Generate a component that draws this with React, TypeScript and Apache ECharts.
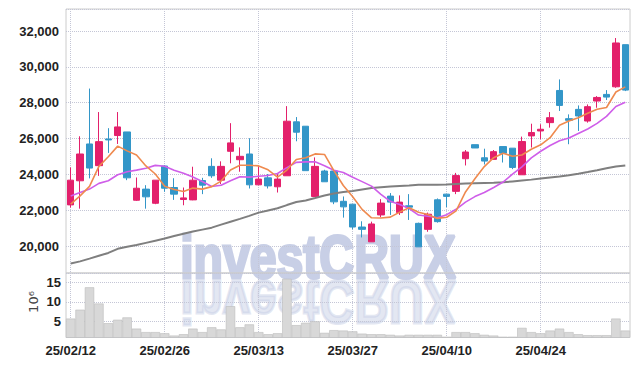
import React, { useEffect, useRef } from "react";
import * as echarts from "echarts";

const dates = [
  "25/02/12","25/02/13","25/02/14","25/02/17","25/02/18","25/02/19","25/02/20","25/02/21","25/02/24","25/02/25",
  "25/02/26","25/02/27","25/02/28","25/03/04","25/03/05","25/03/06","25/03/07","25/03/10","25/03/11","25/03/12",
  "25/03/13","25/03/14","25/03/17","25/03/18","25/03/19","25/03/20","25/03/21","25/03/24","25/03/25","25/03/26",
  "25/03/27","25/03/28","25/03/31","25/04/01","25/04/02","25/04/03","25/04/04","25/04/07","25/04/08","25/04/09",
  "25/04/10","25/04/11","25/04/14","25/04/15","25/04/16","25/04/17","25/04/18","25/04/21","25/04/22","25/04/23",
  "25/04/24","25/04/25","25/04/28","25/04/29","25/04/30","25/05/02","25/05/07","25/05/08","25/05/09","25/05/12",
];

const opens = [
  22300, 23645, 25700, 24490, 25980, 26170, 26370, 22560, 23180, 22390,
  24470, 23270, 22600, 22580, 23660, 24450, 23680, 25290, 24820, 25140,
  23420, 23810, 23310, 23925, 26935, 26690, 22770, 24190, 24190, 22500,
  22340, 21065, 20240, 21740, 22790, 21870, 22250, 21270, 20935, 22585,
  22900, 23055, 24875, 25660, 24930, 24840, 25555, 25465, 23980, 26150,
  26425, 26890, 28685, 27110, 27630, 26980, 28095, 28465, 28890, 31240,
];
const closes = [
  23680, 25140, 24355, 25830, 25925, 26650, 23810, 23230, 22750, 23680,
  23230, 22900, 22690, 23680, 23400, 23925, 24450, 25760, 25010, 23420,
  23740, 23360, 23740, 26970, 26355, 24210, 24450, 23590, 22470, 22190,
  21065, 20935, 21235, 22400, 22455, 22455, 22175, 19960, 21780, 21365,
  22775, 23935, 25250, 25475, 24745, 25270, 25185, 24390, 25835, 26335,
  26520, 27165, 27850, 27020, 27260, 27780, 28295, 28315, 31335, 28705,
];
const lows = [
  22150, 22090, 23780, 23920, 25200, 25700, 23680, 22520, 22090, 22340,
  23030, 22580, 22280, 22560, 22900, 23810, 23460, 24620, 24150, 23215,
  23400, 23215, 22990, 23925, 25850, 24210, 22770, 23590, 22340, 21590,
  20935, 20485, 20240, 21610, 21740, 21740, 21460, 19960, 20800, 21310,
  22175, 22900, 24500, 25475, 24555, 24840, 24665, 24295, 23980, 25500,
  25960, 26610, 27540, 25685, 26425, 26890, 27720, 28150, 28835, 28650,
];
const highs = [
  24390, 26130, 28790, 27480, 26580, 27480, 26370, 23830, 23400, 23680,
  24520, 23790, 23270, 24430, 23810, 24900, 24730, 26860, 25510, 26020,
  24450, 24020, 24020, 27810, 27200, 26690, 24950, 24260, 24190, 22770,
  22340, 21385, 21365, 22620, 22960, 22830, 22900, 21310, 21870, 22660,
  22900, 24085, 25360, 25660, 25435, 25360, 25555, 25465, 26110, 26830,
  26800, 27480, 29300, 27350, 27850, 27905, 28370, 28705, 31610, 31240,
];

// trading volume, millions of shares
const volumes = [
  5.7, 8.0, 13.8, 9.6, 4.5, 5.4, 6.0, 3.1, 2.2, 2.2,
  1.9, 1.3, 1.65, 3.1, 2.2, 3.45, 2.9, 8.9, 3.45, 4.2,
  2.2, 1.65, 1.9, 16.0, 4.0, 4.6, 5.0, 2.0, 2.7, 2.6,
  2.4, 1.8, 1.65, 1.65, 1.5, 1.3, 1.5, 1.5, 1.5, 1.5,
  1.0, 2.2, 2.2, 1.9, 1.5, 1.3, 1.0, 1.0, 3.3, 2.2,
  1.9, 2.6, 3.1, 2.2, 1.65, 1.4, 1.4, 1.4, 5.7, 2.6,
];

const ma5Lead = [22340, 22800, 23330, 24450];
const ma10Lead = [22800, 22990, 23180, 23500, 23650, 23980, 24150, 24240, 24340];
// 60-day moving average
const ma60 = [
  19030, 19150, 19300, 19460, 19620, 19850, 19960, 20060, 20180, 20300,
  20420, 20560, 20690, 20810, 20920, 21030, 21200, 21360, 21520, 21690,
  21870, 21990, 22110, 22290, 22460, 22550, 22680, 22820, 22930, 23020,
  23080, 23160, 23240, 23290, 23330, 23360, 23380, 23420, 23430, 23430,
  23440, 23470, 23500, 23510, 23520, 23530, 23560, 23610, 23660, 23710,
  23770, 23830, 23890, 23960, 24040, 24130, 24230, 24340, 24440, 24500,
];

const priceTicks = { min: 18500, max: 33230, step: 2000 };
const volTicks = { min: 0.8, max: 17.5, step: 5 };

function movingAverage(values: number[], period: number, lead: number[]) {
  return values.map((_, i) => {
    if (i < lead.length) return lead[i];
    const w = values.slice(i - period + 1, i + 1);
    return Math.round(w.reduce((a, b) => a + b, 0) / period);
  });
}

const FONT = "'Liberation Sans', Arial, sans-serif";

export default function App() {
  const ref = useRef<HTMLDivElement>(null);
  useEffect(() => {
    if (!ref.current) return;
    const chart = echarts.init(ref.current, undefined, { renderer: "svg" });
    const ma5 = movingAverage(closes, 5, ma5Lead);
    const ma10 = movingAverage(closes, 10, ma10Lead);
    const ohlc = dates.map((_, i) => [opens[i], closes[i], lows[i], highs[i]]);
    const split = { lineStyle: { type: "dotted" as const, color: "#c4c6d6", width: 1 } };
    const labelStyle = { fontFamily: FONT, fontWeight: "bold" as const, fontSize: 13, color: "#222" };
    const wm = {
      text: "investCRUX", x: 0, y: -21.5, align: "center", verticalAlign: "middle",
      fontFamily: FONT, fontWeight: "bold", fontSize: 61, fill: "#c8cfe6",
      stroke: "#c8cfe6", lineWidth: 3,
    };

    chart.setOption({
      animation: false,
      grid: [
        { left: 66, right: 9, top: 9, height: 264, show: true, borderColor: "#cccccc", borderWidth: 1 },
        { left: 66, right: 9, top: 273, height: 64.5, show: true, borderColor: "#cccccc", borderWidth: 1 },
      ],
      xAxis: [
        {
          type: "category", gridIndex: 0, data: dates, boundaryGap: true,
          axisLine: { show: false }, axisLabel: { show: false },
          axisTick: { show: false, alignWithLabel: true, interval: 9 },
          splitLine: { show: true, interval: 9, alignWithLabel: true, ...split },
        },
        {
          type: "category", gridIndex: 1, data: dates, boundaryGap: true,
          axisLine: { show: false },
          axisTick: { show: false, alignWithLabel: true, interval: 9 },
          axisLabel: { interval: 9, margin: 6, ...labelStyle },
          splitLine: { show: true, interval: 9, alignWithLabel: true, ...split },
        },
      ],
      yAxis: [
        {
          type: "value", gridIndex: 0, scale: true,
          min: priceTicks.min, max: priceTicks.max,
          minInterval: priceTicks.step, maxInterval: priceTicks.step,
          axisLine: { show: false }, axisTick: { show: false },
          axisLabel: {
            showMinLabel: false, showMaxLabel: false, margin: 7, ...labelStyle,
            formatter: (v: number) => v.toLocaleString("en-US"),
          },
          splitLine: { show: true, ...split },
        },
        {
          type: "value", gridIndex: 1, scale: true,
          min: volTicks.min, max: volTicks.max,
          minInterval: volTicks.step, maxInterval: volTicks.step,
          axisLine: { show: false }, axisTick: { show: false },
          axisLabel: { showMinLabel: false, showMaxLabel: false, margin: 5, ...labelStyle },
          splitLine: { show: true, ...split },
        },
      ],
      graphic: [
        {
          type: "text", x: 318, y: 278, scaleX: 0.79, z: -1, silent: true,
          style: { ...wm },
        },
        {
          type: "text", x: 318, y: 281, scaleX: 0.79, scaleY: -1, z: -1, silent: true,
          style: { ...wm, opacity: 0.5 },
        },
        {
          type: "text", x: 33, y: 302, rotation: Math.PI / 2, silent: true,
          style: {
            text: "10\u2076", align: "center", verticalAlign: "middle",
            fontFamily: "'DejaVu Sans', sans-serif", fontSize: 13, fill: "#444",
          },
        },
      ],
      series: [
        {
          type: "candlestick", xAxisIndex: 0, yAxisIndex: 0, data: ohlc, barWidth: 7,
          itemStyle: {
            color: "#e3206b", color0: "#3396c8",
            borderColor: "#e3206b", borderColor0: "#3396c8", borderWidth: 1,
          },
        },
        {
          type: "line", xAxisIndex: 0, yAxisIndex: 0, data: ma60, symbol: "none",
          lineStyle: { color: "#7f7f7f", width: 2 },
        },
        {
          type: "line", xAxisIndex: 0, yAxisIndex: 0, data: ma10, symbol: "none",
          lineStyle: { color: "#cf5ee9", width: 1.6 },
        },
        {
          type: "line", xAxisIndex: 0, yAxisIndex: 0, data: ma5, symbol: "none",
          lineStyle: { color: "#ef8a4f", width: 1.6 },
        },
        {
          type: "bar", xAxisIndex: 1, yAxisIndex: 1, data: volumes, barCategoryGap: "0%",
          itemStyle: { color: "#d8d8d8", borderColor: "#bcbcbc", borderWidth: 0.6 },
        },
      ],
    });
    return () => chart.dispose();
  }, []);
  return <div ref={ref} style={{ width: 639, height: 366, position: "absolute", left: 0, top: 0 }} />;
}
